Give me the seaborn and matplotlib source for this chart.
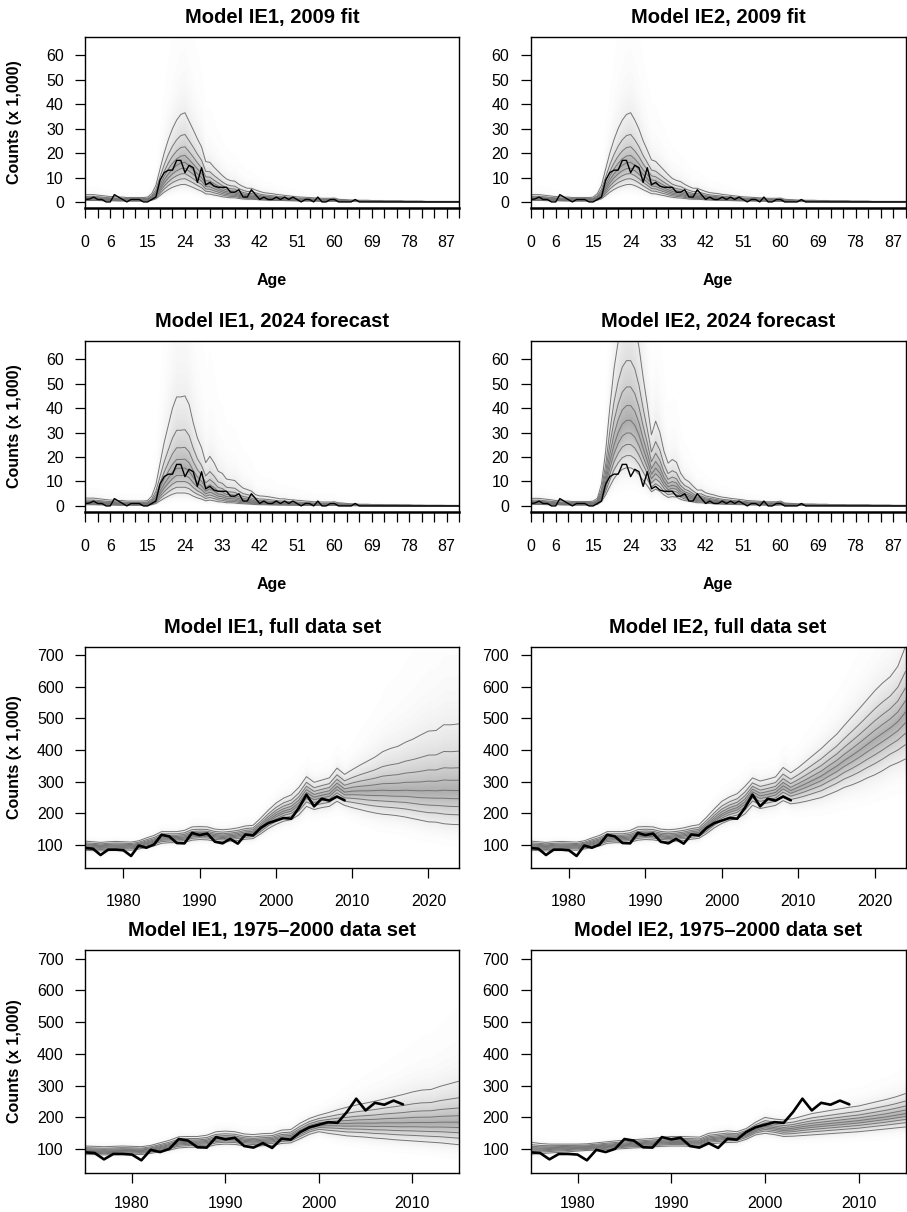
import numpy as np
import pandas as pd
import matplotlib
matplotlib.use("Agg")
import matplotlib.pyplot as plt
import seaborn as sns
from statistics import NormalDist

# ---- data (counts in thousands) ----
ages = list(range(0, 91))

# observed 2009 counts by age
obs_age = [1.0, 1.2, 2.0, 1.0, 1.0, 0.0, 0.0, 3.0, 2.0, 1.0,
           0.0, 1.0, 1.0, 1.0, 0.0, 0.0, 1.0, 2.0, 9.0, 12.0,
           13.0, 13.0, 17.0, 17.0, 12.0, 15.0, 14.0, 8.0, 14.0, 7.0,
           8.0, 6.5, 6.0, 6.0, 6.0, 4.0, 4.0, 5.0, 2.0, 2.0,
           5.0, 3.0, 1.0, 2.0, 1.0, 1.0, 2.0, 1.0, 2.0, 1.0,
           2.0, 1.0, 0.0, 1.0, 1.0, 0.0, 2.0, 0.0, 0.0, 1.0,
           1.0, 0.0, 0.0, 0.0, 0.0, 1.0, 0.0, 0.0, 0.0, 0.0,
           0.0, 0.0, 0.0, 0.0, 0.0, 0.0, 0.0, 0.0, 0.0, 0.0,
           0.0, 0.0, 0.0, 0.0, 0.0, 0.0, 0.0, 0.0, 0.0, 0.0, 0.0]

# model IE1, 2009 fit: median / 90% / 10%
ie1_fit_med = [1.4, 1.4, 1.4, 1.3, 1.2, 1.1, 1.0, 1.0, 0.9, 0.9,
               0.8, 0.8, 0.8, 0.8, 0.8, 0.9, 1.5, 3.0, 6.0, 9.0,
               11.5, 13.5, 15.0, 16.0, 16.2, 14.8, 13.2, 11.5, 10.0, 7.4,
               7.3, 6.4, 5.6, 4.8, 4.2, 3.9, 3.8, 3.2, 2.8, 2.5,
               2.5, 2.2, 1.9, 1.7, 1.6, 1.5, 1.4, 1.3, 1.2, 1.1,
               1.0, 0.95, 0.9, 0.85, 0.8, 0.75, 0.7, 0.65, 0.65, 0.65,
               0.7, 0.5, 0.45, 0.4, 0.35, 0.35, 0.3, 0.3, 0.3, 0.25,
               0.25, 0.25, 0.2, 0.2, 0.2, 0.2, 0.2, 0.15, 0.15, 0.15,
               0.15, 0.15, 0.1, 0.1, 0.1, 0.1, 0.1, 0.1, 0.1, 0.1, 0.1]
ie1_fit_hi = [3.0, 3.0, 3.0, 2.8, 2.6, 2.4, 2.2, 2.2, 2.0, 2.0,
              1.8, 1.8, 1.8, 1.8, 1.8, 2.0, 3.4, 6.8, 13.5, 20.0,
              25.5, 30.0, 33.5, 35.8, 36.5, 33.0, 29.5, 25.8, 22.5, 16.5,
              16.2, 14.2, 12.5, 10.8, 9.4, 8.7, 8.5, 7.2, 6.3, 5.6,
              5.6, 4.9, 4.3, 3.8, 3.6, 3.4, 3.1, 2.9, 2.7, 2.5,
              2.3, 2.1, 2.0, 1.9, 1.8, 1.7, 1.6, 1.5, 1.5, 1.5,
              1.6, 1.1, 1.0, 0.9, 0.8, 0.8, 0.7, 0.7, 0.7, 0.6,
              0.6, 0.6, 0.45, 0.45, 0.45, 0.45, 0.45, 0.35, 0.35, 0.35,
              0.35, 0.35, 0.25, 0.25, 0.25, 0.25, 0.25, 0.25, 0.25, 0.25, 0.25]
ie1_fit_lo = [0.6, 0.6, 0.6, 0.6, 0.5, 0.5, 0.45, 0.45, 0.4, 0.4,
              0.35, 0.35, 0.35, 0.35, 0.35, 0.4, 0.7, 1.3, 2.6, 4.0,
              5.1, 6.0, 6.6, 7.1, 7.2, 6.6, 5.9, 5.1, 4.4, 3.3,
              3.2, 2.8, 2.5, 2.1, 1.9, 1.7, 1.7, 1.4, 1.2, 1.1,
              1.1, 1.0, 0.85, 0.75, 0.7, 0.65, 0.6, 0.6, 0.55, 0.5,
              0.45, 0.42, 0.4, 0.38, 0.35, 0.33, 0.3, 0.3, 0.3, 0.3,
              0.3, 0.22, 0.2, 0.18, 0.15, 0.15, 0.13, 0.13, 0.13, 0.11,
              0.11, 0.11, 0.09, 0.09, 0.09, 0.09, 0.09, 0.07, 0.07, 0.07,
              0.07, 0.07, 0.05, 0.05, 0.05, 0.05, 0.05, 0.05, 0.05, 0.05, 0.05]

# model IE2, 2009 fit
ie2_fit_med = [1.4, 1.4, 1.4, 1.3, 1.2, 1.1, 1.0, 1.0, 0.9, 0.9,
               0.8, 0.8, 0.8, 0.8, 0.8, 0.9, 1.5, 3.0, 6.0, 9.0,
               11.5, 13.5, 15.0, 16.0, 16.2, 15.0, 13.3, 11.2, 9.5, 7.7,
               7.4, 6.6, 5.8, 5.0, 4.3, 3.9, 3.7, 3.2, 2.8, 2.5,
               2.5, 2.2, 1.9, 1.7, 1.6, 1.5, 1.4, 1.3, 1.2, 1.1,
               1.0, 0.95, 0.9, 0.85, 0.8, 0.75, 0.7, 0.65, 0.65, 0.65,
               0.7, 0.5, 0.45, 0.4, 0.35, 0.35, 0.3, 0.3, 0.3, 0.25,
               0.25, 0.25, 0.2, 0.2, 0.2, 0.2, 0.2, 0.15, 0.15, 0.15,
               0.15, 0.15, 0.1, 0.1, 0.1, 0.1, 0.1, 0.1, 0.1, 0.1, 0.1]
ie2_fit_hi = [3.0, 3.0, 3.0, 2.8, 2.6, 2.4, 2.2, 2.2, 2.0, 2.0,
              1.8, 1.8, 1.8, 1.8, 1.8, 2.0, 3.4, 6.8, 13.5, 20.0,
              25.5, 30.0, 33.5, 35.8, 36.5, 33.5, 29.8, 25.0, 21.2, 17.2,
              16.6, 14.8, 13.0, 11.2, 9.6, 8.8, 8.3, 7.2, 6.3, 5.6,
              5.6, 4.9, 4.3, 3.8, 3.6, 3.4, 3.1, 2.9, 2.7, 2.5,
              2.3, 2.1, 2.0, 1.9, 1.8, 1.7, 1.6, 1.5, 1.5, 1.5,
              1.6, 1.1, 1.0, 0.9, 0.8, 0.8, 0.7, 0.7, 0.7, 0.6,
              0.6, 0.6, 0.45, 0.45, 0.45, 0.45, 0.45, 0.35, 0.35, 0.35,
              0.35, 0.35, 0.25, 0.25, 0.25, 0.25, 0.25, 0.25, 0.25, 0.25, 0.25]
ie2_fit_lo = [0.6, 0.6, 0.6, 0.6, 0.5, 0.5, 0.45, 0.45, 0.4, 0.4,
              0.35, 0.35, 0.35, 0.35, 0.35, 0.4, 0.7, 1.3, 2.6, 4.0,
              5.1, 6.0, 6.6, 7.1, 7.2, 6.7, 5.9, 5.0, 4.2, 3.4,
              3.3, 2.9, 2.6, 2.2, 1.9, 1.7, 1.6, 1.4, 1.2, 1.1,
              1.1, 1.0, 0.85, 0.75, 0.7, 0.65, 0.6, 0.6, 0.55, 0.5,
              0.45, 0.42, 0.4, 0.38, 0.35, 0.33, 0.3, 0.3, 0.3, 0.3,
              0.3, 0.22, 0.2, 0.18, 0.15, 0.15, 0.13, 0.13, 0.13, 0.11,
              0.11, 0.11, 0.09, 0.09, 0.09, 0.09, 0.09, 0.07, 0.07, 0.07,
              0.07, 0.07, 0.05, 0.05, 0.05, 0.05, 0.05, 0.05, 0.05, 0.05, 0.05]

# model IE1, 2024 forecast
ie1_fc_med = [1.4, 1.4, 1.4, 1.3, 1.2, 1.1, 1.0, 1.0, 0.9, 0.9,
              0.8, 0.8, 0.8, 0.8, 0.8, 0.9, 1.4, 3.0, 6.0, 9.0,
              11.5, 13.8, 15.4, 15.4, 15.5, 14.3, 11.7, 9.6, 8.2, 6.1,
              7.0, 6.1, 4.9, 4.6, 3.8, 3.7, 3.6, 3.0, 2.5, 2.3,
              2.1, 1.6, 1.4, 1.4, 1.3, 1.2, 1.1, 1.0, 1.0, 0.9,
              0.85, 0.8, 0.75, 0.7, 0.65, 0.6, 0.6, 0.55, 0.55, 0.55,
              0.6, 0.45, 0.4, 0.35, 0.3, 0.3, 0.25, 0.25, 0.25, 0.2,
              0.2, 0.2, 0.18, 0.18, 0.18, 0.18, 0.15, 0.15, 0.15, 0.12,
              0.12, 0.12, 0.1, 0.1, 0.1, 0.1, 0.1, 0.08, 0.08, 0.08, 0.08]
ie1_fc_hi = [3.2, 3.2, 3.2, 3.0, 2.8, 2.6, 2.4, 2.4, 2.2, 2.2,
             2.0, 2.0, 2.0, 2.0, 2.0, 2.2, 4.0, 8.7, 17.4, 26.0,
             33.0, 40.0, 44.6, 44.6, 45.0, 41.5, 34.0, 27.8, 23.8, 17.7,
             20.3, 17.7, 14.2, 13.3, 11.0, 10.7, 10.4, 8.7, 7.3, 6.7,
             6.1, 4.6, 4.1, 4.0, 3.8, 3.5, 3.2, 2.9, 2.9, 2.6,
             2.5, 2.3, 2.2, 2.0, 1.9, 1.7, 1.7, 1.6, 1.6, 1.6,
             1.7, 1.3, 1.2, 1.0, 0.9, 0.9, 0.7, 0.7, 0.7, 0.6,
             0.6, 0.6, 0.5, 0.5, 0.5, 0.5, 0.45, 0.45, 0.45, 0.35,
             0.35, 0.35, 0.3, 0.3, 0.3, 0.3, 0.3, 0.25, 0.25, 0.25, 0.25]
ie1_fc_lo = [0.5, 0.5, 0.5, 0.45, 0.4, 0.4, 0.35, 0.35, 0.3, 0.3,
             0.28, 0.28, 0.28, 0.28, 0.28, 0.3, 0.5, 1.0, 2.1, 3.1,
             4.0, 4.8, 5.3, 5.3, 5.3, 4.9, 4.0, 3.3, 2.8, 2.1,
             2.4, 2.1, 1.7, 1.6, 1.3, 1.3, 1.2, 1.0, 0.9, 0.8,
             0.7, 0.55, 0.5, 0.5, 0.45, 0.4, 0.38, 0.35, 0.35, 0.3,
             0.3, 0.28, 0.26, 0.24, 0.22, 0.2, 0.2, 0.19, 0.19, 0.19,
             0.2, 0.15, 0.14, 0.12, 0.1, 0.1, 0.09, 0.09, 0.09, 0.07,
             0.07, 0.07, 0.06, 0.06, 0.06, 0.06, 0.05, 0.05, 0.05, 0.04,
             0.04, 0.04, 0.03, 0.03, 0.03, 0.03, 0.03, 0.03, 0.03, 0.03, 0.03]

# model IE2, 2024 forecast
ie2_fc_med = [1.4, 1.4, 1.4, 1.3, 1.2, 1.1, 1.0, 1.0, 0.9, 0.9,
              0.8, 0.8, 0.8, 0.8, 0.8, 0.9, 1.4, 4.0, 10.0, 18.0,
              25.0, 30.0, 33.5, 35.0, 35.0, 33.0, 29.0, 23.5, 18.5, 13.0,
              15.5, 13.5, 10.0, 7.8, 8.5, 8.0, 6.0, 4.9, 4.4, 3.6,
              2.9, 2.9, 2.4, 2.2, 2.0, 1.8, 1.6, 1.5, 1.4, 1.3,
              1.2, 1.1, 1.0, 0.95, 0.9, 0.85, 0.8, 0.75, 0.75, 0.75,
              0.9, 0.55, 0.5, 0.45, 0.4, 0.4, 0.35, 0.35, 0.35, 0.3,
              0.3, 0.3, 0.25, 0.25, 0.25, 0.25, 0.2, 0.2, 0.2, 0.2,
              0.2, 0.2, 0.15, 0.15, 0.15, 0.15, 0.15, 0.12, 0.12, 0.12, 0.12]
ie2_fc_hi = [3.1, 3.1, 3.1, 2.9, 2.7, 2.5, 2.2, 2.2, 2.0, 2.0,
             1.8, 1.8, 1.8, 1.8, 1.8, 2.0, 3.1, 9.0, 22.4, 40.3,
             56.0, 67.2, 75.0, 78.4, 78.4, 74.0, 65.0, 52.6, 41.4, 29.1,
             34.7, 30.2, 22.4, 17.5, 19.0, 17.9, 13.4, 11.0, 9.9, 8.1,
             6.5, 6.5, 5.4, 4.9, 4.5, 4.0, 3.6, 3.4, 3.1, 2.9,
             2.7, 2.5, 2.2, 2.1, 2.0, 1.9, 1.8, 1.7, 1.7, 1.7,
             2.0, 1.2, 1.1, 1.0, 0.9, 0.9, 0.8, 0.8, 0.8, 0.7,
             0.7, 0.7, 0.55, 0.55, 0.55, 0.55, 0.45, 0.45, 0.45, 0.45,
             0.45, 0.45, 0.35, 0.35, 0.35, 0.35, 0.35, 0.27, 0.27, 0.27, 0.27]
ie2_fc_lo = [0.6, 0.6, 0.6, 0.6, 0.5, 0.5, 0.45, 0.45, 0.4, 0.4,
             0.35, 0.35, 0.35, 0.35, 0.35, 0.4, 0.6, 1.8, 4.5, 8.0,
             11.2, 13.4, 15.0, 15.6, 15.6, 14.7, 12.9, 10.5, 8.3, 5.8,
             6.9, 6.0, 4.5, 3.5, 3.8, 3.6, 2.7, 2.2, 2.0, 1.6,
             1.3, 1.3, 1.1, 1.0, 0.9, 0.8, 0.7, 0.65, 0.6, 0.58,
             0.54, 0.5, 0.45, 0.42, 0.4, 0.38, 0.36, 0.33, 0.33, 0.33,
             0.4, 0.25, 0.22, 0.2, 0.18, 0.18, 0.16, 0.16, 0.16, 0.13,
             0.13, 0.13, 0.11, 0.11, 0.11, 0.11, 0.09, 0.09, 0.09, 0.09,
             0.09, 0.09, 0.07, 0.07, 0.07, 0.07, 0.07, 0.05, 0.05, 0.05, 0.05]

# total counts by year
years_obs = list(range(1975, 2010))
obs_year = [90, 88, 68, 85, 85, 83, 65, 98, 91, 101,
            132, 127, 106, 105, 138, 131, 136, 110, 105, 119,
            104, 133, 130, 154, 169, 177, 185, 183, 217, 259,
            222, 246, 240, 253, 241]

years_full = list(range(1975, 2025))
ie1_full_med = [97, 96, 95, 96, 97, 97, 96, 100, 106, 112,
                122, 123, 123, 125, 133, 135, 134, 129, 127, 129,
                132, 137, 139, 157, 178, 195, 207, 214, 233, 266,
                251, 257, 262, 285, 267, 270, 271, 271, 272, 273,
                272, 272, 273, 272, 271, 272, 271, 273, 272, 272]
ie1_full_hi = [112, 110, 108, 110, 111, 110, 109, 113, 122, 130,
               142, 142, 142, 146, 157, 158, 157, 150, 148, 150,
               154, 160, 162, 185, 210, 232, 248, 258, 282, 316,
               298, 305, 312, 343, 323, 338, 352, 365, 378, 395,
               405, 412, 425, 435, 448, 460, 462, 480, 480, 483]
ie1_full_lo = [83, 82, 81, 82, 83, 84, 83, 87, 92, 97,
               105, 107, 107, 108, 115, 117, 116, 112, 110, 112,
               114, 118, 120, 135, 152, 165, 175, 180, 195, 222,
               212, 218, 222, 238, 225, 218, 212, 206, 201, 197,
               195, 192, 188, 183, 178, 173, 172, 167, 165, 164]

ie2_full_med = [97, 96, 95, 96, 97, 97, 96, 100, 106, 112,
                122, 123, 123, 125, 133, 135, 134, 129, 127, 129,
                132, 137, 140, 158, 180, 198, 210, 218, 236, 268,
                255, 260, 266, 287, 272, 283, 294, 306, 318, 334,
                349, 367, 383, 400, 418, 436, 453, 470, 490, 520]
ie2_full_hi = [112, 110, 108, 110, 111, 110, 109, 113, 122, 130,
               142, 142, 142, 146, 157, 158, 157, 150, 148, 150,
               154, 160, 164, 188, 214, 238, 252, 262, 285, 312,
               302, 308, 315, 345, 328, 345, 365, 385, 405, 428,
               450, 478, 505, 532, 560, 588, 612, 632, 665, 728]
ie2_full_lo = [83, 82, 81, 82, 83, 84, 83, 87, 92, 97,
               105, 107, 107, 108, 115, 117, 116, 112, 110, 112,
               114, 118, 121, 136, 154, 168, 178, 183, 198, 225,
               215, 220, 225, 240, 230, 233, 238, 244, 250, 260,
               270, 282, 290, 300, 312, 322, 335, 350, 360, 372]

years_short = list(range(1975, 2016))
ie1_short_med = [96, 95, 94, 95, 96, 96, 95, 99, 105, 111,
                 120, 122, 122, 124, 132, 134, 133, 128, 126, 128,
                 130, 137, 139, 155, 170, 178, 180, 181, 181, 182,
                 182, 182, 183, 183, 183, 184, 184, 184, 185, 185, 185]
ie1_short_hi = [110, 109, 108, 109, 110, 109, 108, 112, 120, 128,
                139, 140, 140, 144, 155, 157, 155, 148, 146, 149,
                150, 160, 162, 182, 197, 207, 215, 224, 232, 239,
                245, 251, 258, 265, 272, 280, 286, 288, 298, 306, 314]
ie1_short_lo = [84, 83, 82, 83, 84, 84, 83, 87, 92, 97,
                104, 106, 106, 107, 114, 116, 115, 111, 109, 111,
                112, 118, 120, 133, 147, 155, 150, 146, 142, 140,
                138, 135, 133, 130, 128, 126, 124, 122, 120, 117, 114]

ie2_short_med = [101, 101, 102, 103, 104, 105, 106, 108, 110, 112,
                 114, 116, 118, 120, 122, 124, 124, 123, 122, 132,
                 135, 138, 138, 148, 163, 172, 168, 163, 166, 171,
                 175, 178, 181, 184, 187, 190, 194, 198, 202, 207, 212]
ie2_short_hi = [122, 118, 116, 116, 116, 116, 117, 120, 123, 126,
                128, 130, 132, 134, 137, 140, 140, 139, 138, 150,
                154, 158, 155, 165, 185, 200, 195, 192, 196, 204,
                212, 217, 222, 227, 232, 236, 243, 250, 257, 265, 275]
ie2_short_lo = [84, 86, 88, 90, 92, 94, 96, 97, 99, 100,
                102, 104, 105, 107, 109, 110, 110, 109, 108, 117,
                119, 121, 122, 131, 145, 150, 146, 140, 141, 143,
                145, 147, 149, 151, 153, 155, 158, 161, 164, 167, 170]

age_ticks = list(range(0, 91, 3))
age_labels = [0, 6, 15, 24, 33, 42, 51, 60, 69, 78, 87]

# ---- style ----
sns.set_style("ticks")
plt.rcParams["font.family"] = ["Liberation Sans", "DejaVu Sans"]
plt.rcParams["text.color"] = "black"
plt.rcParams["axes.labelcolor"] = "black"

W, H = 907, 1212
fig = plt.figure(figsize=(W / 100, H / 100), dpi=100)

COLS = [(85.3, 459.0), (530.7, 905.5)]
ROWS = [(36.7, 208.3), (340.7, 512.3), (646.7, 868.3), (950.0, 1172.7)]

nd = NormalDist()
Z90 = nd.inv_cdf(0.9)


def quant(med, lo, hi, p):
    z = nd.inv_cdf(p)
    med = np.asarray(med, float)
    if z >= 0:
        return med * (np.asarray(hi, float) / med) ** (z / Z90)
    return med * (np.asarray(lo, float) / med) ** (-z / Z90)


def panel(r, c, title):
    x0, x1 = COLS[c]
    t, b = ROWS[r]
    ax = fig.add_axes([x0 / W, 1 - b / H, (x1 - x0) / W, (b - t) / H])
    ax.text(0.5, 1 + 19.5 / (b - t), title, transform=ax.transAxes,
            ha="center", va="center", fontsize=14.5, fontweight="bold",
            color="black")
    if c == 0:
        fig.text(15 / W, 1 - (t + b) / 2 / H, "Counts (x 1,000)", rotation=90,
                 ha="center", va="center", fontsize=11.5, fontweight="bold",
                 color="black")
    return ax, b - t


def draw_fan(ax, x, med, lo, hi):
    # grey density shading
    for p in np.linspace(0.004, 0.48, 40):
        ax.fill_between(x, quant(med, lo, hi, p), quant(med, lo, hi, 1 - p),
                        color="black", alpha=0.0085, lw=0)
    # decile lines
    frames = []
    for p in [0.1, 0.2, 0.3, 0.4, 0.5, 0.6, 0.7, 0.8, 0.9]:
        frames.append(pd.DataFrame({"x": x, "y": quant(med, lo, hi, p), "q": p}))
    df = pd.concat(frames)
    sns.lineplot(data=df, x="x", y="y", units="q", estimator=None,
                 color="#757575", lw=0.7, ax=ax, legend=False)


def style(ax, xpad=11):
    for s in ax.spines.values():
        s.set_color("black")
        s.set_linewidth(1.0)
    ax.tick_params(direction="out", length=7.5, width=0.9, labelsize=11.5,
                   colors="black")
    ax.tick_params(axis="y", pad=8)
    ax.tick_params(axis="x", pad=xpad)
    ax.set_xlabel("")
    ax.set_ylabel("")


age_panels = [
    (0, 0, "Model IE1, 2009 fit", ie1_fit_med, ie1_fit_lo, ie1_fit_hi),
    (0, 1, "Model IE2, 2009 fit", ie2_fit_med, ie2_fit_lo, ie2_fit_hi),
    (1, 0, "Model IE1, 2024 forecast", ie1_fc_med, ie1_fc_lo, ie1_fc_hi),
    (1, 1, "Model IE2, 2024 forecast", ie2_fc_med, ie2_fc_lo, ie2_fc_hi),
]
for r, c, title, med, lo, hi in age_panels:
    ax, h = panel(r, c, title)
    draw_fan(ax, ages, med, lo, hi)
    sns.lineplot(x=ages, y=obs_age, color="black", lw=1.0, ax=ax)
    ax.set_xlim(0, 90)
    ax.set_ylim(-2.6, 67.6)
    ax.set_yticks([0, 10, 20, 30, 40, 50, 60])
    ax.set_xticks(age_ticks)
    ax.set_xticklabels([str(a) if a in age_labels else "" for a in age_ticks])
    style(ax, xpad=12)
    ax.spines["bottom"].set_linewidth(1.8)
    ax.text(0.5, -72 / h, "Age", transform=ax.transAxes, ha="center",
            va="center", fontsize=11.5, fontweight="bold", color="black")

year_panels = [
    (2, 0, "Model IE1, full data set", years_full, ie1_full_med, ie1_full_lo, ie1_full_hi),
    (2, 1, "Model IE2, full data set", years_full, ie2_full_med, ie2_full_lo, ie2_full_hi),
    (3, 0, "Model IE1, 1975\u20132000 data set", years_short, ie1_short_med, ie1_short_lo, ie1_short_hi),
    (3, 1, "Model IE2, 1975\u20132000 data set", years_short, ie2_short_med, ie2_short_lo, ie2_short_hi),
]
for r, c, title, yrs, med, lo, hi in year_panels:
    ax, h = panel(r, c, title)
    draw_fan(ax, yrs, med, lo, hi)
    sns.lineplot(x=years_obs, y=obs_year, color="black", lw=1.9, ax=ax)
    ax.set_xlim(yrs[0], yrs[-1])
    ax.set_ylim(26, 727)
    ax.set_yticks([100, 200, 300, 400, 500, 600, 700])
    ax.set_xticks([t for t in [1980, 1990, 2000, 2010, 2020] if t <= yrs[-1]])
    style(ax, xpad=11 if r == 2 else 9)

fig.savefig("out.png", dpi=100)
